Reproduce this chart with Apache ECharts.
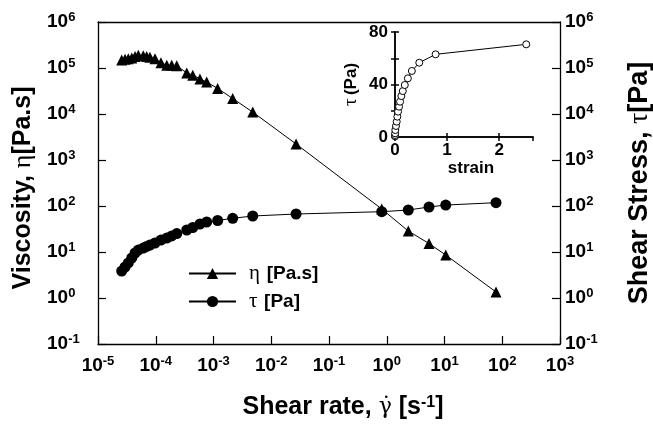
<!DOCTYPE html>
<html>
<head>
<meta charset="utf-8">
<script src="https://cdn.jsdelivr.net/npm/echarts@6/dist/echarts.min.js"></script>
<style>
html, body { margin: 0; padding: 0; background: #fff; }
#chart { width: 653px; height: 426px; }
</style>
</head>
<body>
<div id="chart"></div>
<script>
// Steady shear sweep: shear rate [1/s]
const shearRate = [
  2.57e-5, 2.94e-5, 3.35e-5, 3.84e-5, 4.38e-5, 4.99e-5, 6.08e-5, 6.97e-5, 7.94e-5,
  9.70e-5, 1.23e-4, 1.55e-4, 1.89e-4, 2.31e-4, 3.44e-4, 4.37e-4, 5.83e-4, 7.62e-4,
  1.18e-3, 2.15e-3, 4.78e-3, 2.69e-2, 0.819, 2.36, 5.39, 10.5, 78.0
];
// Viscosity eta [Pa.s]
const viscosity = [
  1.50e5, 1.55e5, 1.58e5, 1.65e5, 1.78e5, 1.90e5, 1.85e5, 1.78e5, 1.72e5,
  1.58e5, 1.30e5, 1.15e5, 1.15e5, 1.12e5, 7.80e4, 7.00e4, 5.80e4, 4.95e4,
  3.60e4, 2.17e4, 1.10e4, 2.23e3, 86.1, 28.6, 15.3, 8.61, 1.35
];
// Shear stress tau [Pa]
const shearStress = [
  3.86, 4.72, 5.77, 7.41, 9.51, 11.0, 12.2, 13.2, 14.2,
  15.7, 18.2, 20.1, 22.3, 25.2, 30.1, 34.1, 40.6, 44.9,
  48.4, 54.0, 60.6, 67.0, 75.2, 81.8, 95.1, 105, 118
];
// Inset: stress growth vs strain
const strain = [
  0.001, 0.002, 0.003, 0.006, 0.019, 0.033, 0.045, 0.058, 0.078,
  0.097, 0.122, 0.150, 0.188, 0.247, 0.324, 0.466, 0.78, 2.52
];
const stressInset = [
  0.5, 1.5, 2.8, 5.3, 8.4, 11.7, 15.5, 19.3, 23.1,
  26.9, 31.2, 35.0, 39.6, 44.7, 50.3, 56.6, 63.0, 70.6
];

const SANS = 'Liberation Sans, Arial, sans-serif';
const SERIF = 'Liberation Serif, Times New Roman, serif';

const powRich = {
  b: { fontFamily: SANS, fontWeight: 'bold', fontSize: 19, color: '#000', lineHeight: 22 },
  s: { fontFamily: SANS, fontWeight: 'bold', fontSize: 13, color: '#000', lineHeight: 13, verticalAlign: 'top' }
};
function powLabel(v) {
  const e = Math.round(Math.log10(v));
  return '{b|10}{s|' + e + '}';
}

function titleRich(size) {
  return {
    b: { fontFamily: SANS, fontWeight: 'bold', fontSize: size, color: '#000' },
    g: { fontFamily: SERIF, fontWeight: 'normal', fontSize: size + 1, color: '#000' },
    d: { fontFamily: 'DejaVu Serif, serif', fontWeight: 'normal', fontSize: size - 3, color: '#000' },
    s: { fontFamily: SANS, fontWeight: 'bold', fontSize: Math.round(size * 0.65), color: '#000', verticalAlign: 'top', lineHeight: 16 }
  };
}

const axisLine = { show: true, lineStyle: { color: '#000', width: 1.3 } };

function logAxis(extra) {
  return Object.assign({
    type: 'log', logBase: 10, gridIndex: 0,
    axisLine: axisLine,
    axisTick: { show: true, inside: true, length: 8, lineStyle: { color: '#000', width: 1.2 } },
    splitLine: { show: false },
    minorTick: { show: false }
  }, extra);
}

const insetLabel = { fontFamily: SANS, fontWeight: 'bold', fontSize: 17, color: '#000' };
const insetTick = { show: true, inside: true, length: 4, lineStyle: { color: '#000', width: 1.5 } };
const insetLine = { show: true, lineStyle: { color: '#000', width: 1.5 } };

const chart = echarts.init(document.getElementById('chart'), null, { renderer: 'canvas' });

chart.setOption({
  animation: false,
  backgroundColor: '#fff',
  grid: [
    { left: 98, right: 93, top: 22, bottom: 82, containLabel: false, outerBoundsMode: 'none' },
    { left: 395, top: 32, width: 138, height: 105, containLabel: false, outerBoundsMode: 'none' }
  ],
  legend: {
    orient: 'vertical',
    left: 188, top: 263, padding: 0,
    itemWidth: 47, itemHeight: 14, itemGap: 7,
    data: ['eta', 'tau'],
    formatter: function (n) {
      return n === 'eta' ? '{g|η}  {b|[Pa.s]}' : '{g|τ}  {b|[Pa]}';
    },
    textStyle: {
      padding: [0, 0, 0, 8],
      rich: {
        g: { fontFamily: SERIF, fontSize: 21, color: '#000', lineHeight: 20 },
        b: { fontFamily: SANS, fontWeight: 'bold', fontSize: 19, color: '#000', lineHeight: 20 }
      }
    }
  },
  xAxis: [
    logAxis({
      position: 'bottom', min: 1e-5, max: 1e3, splitNumber: 8,
      axisLabel: { margin: 11, formatter: powLabel, rich: powRich, showMinLabel: true, showMaxLabel: true },
      name: '{b|Shear rate, }{d|γ̇}{b| [s}{s|-1}{b|]}',
      nameLocation: 'middle', nameGap: 51,
      nameTextStyle: { rich: titleRich(25), padding: [0, 0, 0, 28] }
    }),
    logAxis({
      position: 'top', min: 1e-5, max: 1e3, splitNumber: 8,
      axisTick: { show: false }, axisLabel: { show: false }
    }),
    {
      type: 'value', gridIndex: 1, position: 'bottom', min: 0, max: 2.65, interval: 1,
      axisLine: insetLine, axisTick: insetTick, splitLine: { show: false },
      axisLabel: Object.assign({ margin: 5, showMaxLabel: false,
        formatter: function (v) { return Number.isInteger(v) ? String(v) : ''; } }, insetLabel),
      name: 'strain', nameLocation: 'middle', nameGap: 20,
      nameTextStyle: { fontFamily: SANS, fontWeight: 'bold', fontSize: 17, color: '#000', padding: [0, 0, 0, 14] }
    },
    {
      type: 'value', gridIndex: 1, position: 'top', min: 0, max: 2.65, interval: 1,
      axisLine: insetLine, axisTick: insetTick, splitLine: { show: false },
      axisLabel: { show: false }
    }
  ],
  yAxis: [
    logAxis({
      position: 'left', min: 1e-1, max: 1e6, splitNumber: 7,
      axisLabel: { margin: 51, align: 'left', formatter: powLabel, rich: powRich },
      name: '{b|Viscosity, }{g|η}{b|[Pa.s]}',
      nameLocation: 'middle', nameGap: 59, nameRotate: 90,
      nameTextStyle: { rich: titleRich(25), padding: [0, 10, 0, 0] }
    }),
    logAxis({
      position: 'right', min: 1e-1, max: 1e6, splitNumber: 7,
      axisLabel: { margin: 5, align: 'left', formatter: powLabel, rich: powRich },
      name: '{b|Shear Stress, }{g|τ}{b|[Pa]}',
      nameLocation: 'middle', nameGap: 66, nameRotate: 90,
      nameTextStyle: { rich: titleRich(27) }
    }),
    {
      type: 'value', gridIndex: 1, position: 'left', min: 0, max: 80, interval: 20,
      axisLine: insetLine, axisTick: insetTick, splitLine: { show: false },
      axisLabel: Object.assign({ margin: 7,
        formatter: function (v) { return v % 40 === 0 ? String(v) : ''; } }, insetLabel),
      name: '{g|τ} {b|(Pa)}', nameLocation: 'middle', nameGap: 34, nameRotate: 90,
      nameTextStyle: { rich: {
        g: { fontFamily: SERIF, fontSize: 19, color: '#000' },
        b: { fontFamily: SANS, fontWeight: 'bold', fontSize: 17, color: '#000' }
      } }
    },
    {
      type: 'value', gridIndex: 1, position: 'right', min: 0, max: 80, interval: 20,
      axisLine: insetLine, axisTick: insetTick, splitLine: { show: false },
      axisLabel: { show: false }
    }
  ],
  series: [
    {
      name: 'eta', type: 'line', xAxisIndex: 0, yAxisIndex: 0,
      data: shearRate.map((x, i) => [x, viscosity[i]]),
      symbol: 'triangle', symbolSize: 11,
      lineStyle: { color: '#000', width: 1 },
      itemStyle: { color: '#000' }
    },
    {
      name: 'tau', type: 'line', xAxisIndex: 0, yAxisIndex: 1,
      data: shearRate.map((x, i) => [x, shearStress[i]]),
      symbol: 'circle', symbolSize: 11,
      lineStyle: { color: '#000', width: 1 },
      itemStyle: { color: '#000' }
    },
    {
      name: 'inset', type: 'line', xAxisIndex: 2, yAxisIndex: 2,
      data: strain.map((x, i) => [x, stressInset[i]]),
      symbol: 'circle', symbolSize: 7, showAllSymbol: true,
      lineStyle: { color: '#000', width: 1 },
      itemStyle: { color: '#fff', borderColor: '#000', borderWidth: 1 }
    }
  ]
});
</script>
</body>
</html>
